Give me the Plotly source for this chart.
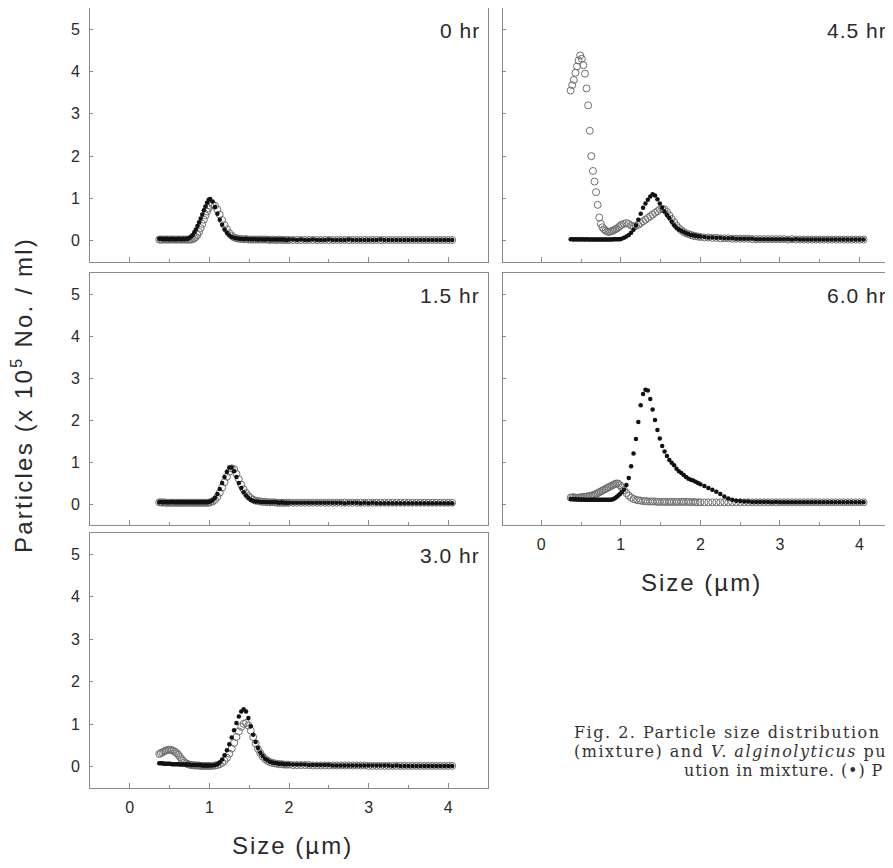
import plotly.graph_objects as go

W, H = 893, 868
OFF = 8  # the page body margin shifts the figure by 8 px

# particle size channels (um)
size_um = [
    0.37, 0.39, 0.41, 0.43, 0.45, 0.47, 0.49, 0.51, 0.53, 0.55, 0.57, 0.59, 0.61, 0.63, 0.65, 0.67,
    0.69, 0.71, 0.73, 0.75, 0.77, 0.79, 0.81, 0.83, 0.85, 0.87, 0.89, 0.91, 0.93, 0.95, 0.97, 0.99, 1.01,
    1.04, 1.07, 1.10, 1.13, 1.16, 1.19, 1.22, 1.25, 1.28, 1.31, 1.34, 1.37, 1.40, 1.43, 1.46, 1.49,
    1.52, 1.55, 1.58, 1.61, 1.64, 1.67, 1.70, 1.73, 1.76, 1.79, 1.82, 1.85, 1.88, 1.91, 1.94, 1.97, 2.00,
    2.05, 2.10, 2.15, 2.20, 2.25, 2.30, 2.35, 2.40, 2.45, 2.50, 2.55, 2.60, 2.65, 2.70, 2.75, 2.80,
    2.85, 2.90, 2.95, 3.00, 3.05, 3.10, 3.15, 3.20, 3.25, 3.30, 3.35, 3.40, 3.45, 3.50, 3.55, 3.60,
    3.65, 3.70, 3.75, 3.80, 3.85, 3.90, 3.95, 4.00, 4.05,
]

# ---- 0 hr ----
dots_0hr = [
    0.05, 0.05, 0.04, 0.05, 0.04, 0.05, 0.04, 0.04, 0.05, 0.04, 0.04, 0.04, 0.05, 0.04, 0.04, 0.05, 0.04, 0.05,
    0.05, 0.07, 0.10, 0.14, 0.20, 0.27, 0.35, 0.44, 0.53, 0.62, 0.72, 0.81, 0.90, 0.97, 0.99,
    0.93, 0.80, 0.64, 0.50, 0.38, 0.27, 0.19, 0.13, 0.09, 0.07, 0.06, 0.05, 0.05, 0.04, 0.05, 0.04,
    0.04, 0.04, 0.04, 0.03, 0.04, 0.03, 0.03, 0.04, 0.03, 0.03, 0.03, 0.03, 0.03, 0.03, 0.03, 0.02, 0.03,
    0.03, 0.02, 0.03, 0.02, 0.02, 0.03, 0.02, 0.02, 0.02, 0.03, 0.02, 0.02, 0.02, 0.02, 0.03, 0.02,
    0.02, 0.02, 0.02, 0.02, 0.02, 0.02, 0.03, 0.02, 0.02, 0.02, 0.02, 0.02, 0.02, 0.02, 0.02, 0.02,
    0.02, 0.02, 0.02, 0.02, 0.02, 0.02, 0.02, 0.02, 0.02,
]
circles_0hr = [
    0.03, 0.03, 0.03, 0.03, 0.03, 0.03, 0.03, 0.03, 0.03, 0.03, 0.03, 0.03, 0.03, 0.03, 0.03, 0.03,
    0.03, 0.03, 0.03, 0.03, 0.03, 0.04, 0.06, 0.09, 0.14, 0.21, 0.30, 0.40, 0.50, 0.60, 0.69, 0.77, 0.83,
    0.86, 0.83, 0.74, 0.62, 0.49, 0.37, 0.27, 0.18, 0.12, 0.08, 0.06, 0.05, 0.04, 0.04, 0.04, 0.03,
    0.03, 0.03, 0.03, 0.03, 0.03, 0.03, 0.03, 0.03, 0.02, 0.03, 0.02, 0.02, 0.03, 0.02, 0.02, 0.02, 0.02,
    0.02, 0.02, 0.02, 0.02, 0.02, 0.02, 0.02, 0.02, 0.02, 0.02, 0.02, 0.02, 0.02, 0.02, 0.02, 0.02,
    0.02, 0.02, 0.02, 0.02, 0.02, 0.02, 0.02, 0.02, 0.02, 0.02, 0.02, 0.02, 0.02, 0.02, 0.02, 0.02,
    0.02, 0.02, 0.02, 0.02, 0.02, 0.02, 0.02, 0.02, 0.02,
]

# ---- 1.5 hr ----
dots_1_5hr = [
    0.04, 0.05, 0.04, 0.04, 0.05, 0.04, 0.04, 0.04, 0.05, 0.04, 0.04, 0.04, 0.04, 0.04, 0.04, 0.04,
    0.04, 0.04, 0.04, 0.04, 0.04, 0.04, 0.04, 0.04, 0.04, 0.04, 0.04, 0.04, 0.04, 0.04, 0.04, 0.05, 0.06,
    0.09, 0.15, 0.24, 0.36, 0.50, 0.64, 0.77, 0.87, 0.87, 0.78, 0.64, 0.50, 0.38, 0.28, 0.20, 0.14,
    0.10, 0.08, 0.06, 0.06, 0.05, 0.05, 0.05, 0.04, 0.04, 0.04, 0.04, 0.04, 0.03, 0.04, 0.03, 0.03, 0.03,
    0.03, 0.03, 0.03, 0.03, 0.03, 0.03, 0.03, 0.03, 0.03, 0.03, 0.03, 0.03, 0.03, 0.02, 0.03, 0.03,
    0.03, 0.02, 0.03, 0.02, 0.03, 0.02, 0.02, 0.02, 0.02, 0.02, 0.02, 0.02, 0.02, 0.02, 0.02, 0.02,
    0.02, 0.02, 0.02, 0.02, 0.02, 0.02, 0.02, 0.02, 0.02,
]
circles_1_5hr = [
    0.04, 0.04, 0.03, 0.04, 0.03, 0.03, 0.03, 0.03, 0.03, 0.03, 0.03, 0.03, 0.03, 0.03, 0.03, 0.03,
    0.03, 0.03, 0.03, 0.03, 0.03, 0.03, 0.03, 0.03, 0.03, 0.03, 0.03, 0.03, 0.03, 0.03, 0.03, 0.03, 0.04,
    0.06, 0.10, 0.17, 0.27, 0.39, 0.52, 0.65, 0.77, 0.85, 0.83, 0.72, 0.59, 0.46, 0.35, 0.26, 0.19,
    0.14, 0.10, 0.08, 0.07, 0.06, 0.05, 0.05, 0.04, 0.04, 0.04, 0.04, 0.03, 0.03, 0.03, 0.03, 0.03, 0.03,
    0.03, 0.03, 0.03, 0.03, 0.03, 0.03, 0.03, 0.03, 0.03, 0.03, 0.03, 0.03, 0.03, 0.03, 0.03, 0.03,
    0.03, 0.03, 0.03, 0.03, 0.03, 0.03, 0.03, 0.03, 0.03, 0.03, 0.03, 0.03, 0.03, 0.03, 0.03, 0.03,
    0.03, 0.03, 0.03, 0.03, 0.03, 0.03, 0.03, 0.03, 0.03,
]

# ---- 3.0 hr ----
dots_3hr = [
    0.08, 0.08, 0.08, 0.07, 0.07, 0.07, 0.07, 0.07, 0.06, 0.06, 0.06, 0.06, 0.06, 0.05, 0.05, 0.05,
    0.05, 0.05, 0.05, 0.05, 0.04, 0.04, 0.04, 0.04, 0.04, 0.04, 0.04, 0.03, 0.03, 0.03, 0.03, 0.03, 0.03,
    0.03, 0.04, 0.06, 0.10, 0.17, 0.27, 0.39, 0.53, 0.69, 0.86, 1.03, 1.18, 1.30, 1.35, 1.30, 1.15,
    0.95, 0.75, 0.58, 0.44, 0.33, 0.25, 0.19, 0.15, 0.12, 0.10, 0.09, 0.08, 0.07, 0.07, 0.06, 0.06, 0.06,
    0.05, 0.05, 0.05, 0.05, 0.04, 0.04, 0.04, 0.04, 0.04, 0.04, 0.03, 0.03, 0.03, 0.03, 0.03, 0.03,
    0.03, 0.03, 0.03, 0.03, 0.03, 0.03, 0.03, 0.03, 0.03, 0.02, 0.03, 0.02, 0.02, 0.02, 0.02, 0.02,
    0.02, 0.02, 0.02, 0.02, 0.02, 0.02, 0.02, 0.02, 0.02,
]
circles_3hr = [
    0.30, 0.32, 0.34, 0.36, 0.38, 0.39, 0.40, 0.40, 0.39, 0.37, 0.35, 0.32, 0.28, 0.23, 0.18, 0.14,
    0.10, 0.08, 0.06, 0.05, 0.04, 0.04, 0.03, 0.03, 0.03, 0.03, 0.02, 0.02, 0.02, 0.02, 0.02, 0.02, 0.02,
    0.02, 0.03, 0.04, 0.06, 0.09, 0.14, 0.21, 0.31, 0.43, 0.56, 0.70, 0.83, 0.94, 1.01, 1.03, 0.97,
    0.85, 0.70, 0.55, 0.42, 0.32, 0.24, 0.18, 0.14, 0.11, 0.09, 0.08, 0.07, 0.06, 0.06, 0.05, 0.05, 0.05,
    0.04, 0.04, 0.04, 0.04, 0.04, 0.03, 0.03, 0.03, 0.03, 0.03, 0.03, 0.03, 0.03, 0.03, 0.03, 0.03,
    0.03, 0.03, 0.03, 0.02, 0.02, 0.02, 0.02, 0.02, 0.02, 0.02, 0.02, 0.02, 0.02, 0.02, 0.02, 0.02,
    0.02, 0.02, 0.02, 0.02, 0.02, 0.02, 0.02, 0.02, 0.02,
]

# ---- 4.5 hr ----
dots_4_5hr = [
    0.04, 0.04, 0.03, 0.04, 0.03, 0.04, 0.03, 0.04, 0.03, 0.03, 0.04, 0.03, 0.03, 0.03, 0.03, 0.03,
    0.03, 0.03, 0.03, 0.03, 0.03, 0.03, 0.03, 0.03, 0.03, 0.03, 0.03, 0.04, 0.04, 0.04, 0.04, 0.04, 0.05,
    0.07, 0.10, 0.14, 0.19, 0.26, 0.36, 0.50, 0.64, 0.78, 0.88, 0.97, 1.05, 1.10, 1.07, 0.98, 0.88,
    0.78, 0.69, 0.61, 0.54, 0.45, 0.37, 0.31, 0.27, 0.24, 0.21, 0.18, 0.16, 0.14, 0.13, 0.12, 0.11, 0.10,
    0.09, 0.08, 0.08, 0.07, 0.07, 0.06, 0.06, 0.06, 0.05, 0.05, 0.05, 0.05, 0.05, 0.04, 0.04, 0.04,
    0.04, 0.04, 0.04, 0.04, 0.04, 0.04, 0.03, 0.04, 0.03, 0.03, 0.03, 0.03, 0.03, 0.03, 0.03, 0.03,
    0.03, 0.03, 0.03, 0.03, 0.03, 0.03, 0.03, 0.03, 0.03,
]
circles_4_5hr = [
    3.55, 3.68, 3.80, 3.97, 4.12, 4.26, 4.38, 4.30, 4.15, 3.95, 3.60, 3.20, 2.60, 2.00, 1.65, 1.40,
    1.15, 0.85, 0.55, 0.40, 0.32, 0.27, 0.24, 0.22, 0.21, 0.22, 0.23, 0.25, 0.27, 0.29, 0.32, 0.35, 0.38,
    0.40, 0.42, 0.40, 0.36, 0.34, 0.35, 0.38, 0.42, 0.46, 0.50, 0.54, 0.58, 0.62, 0.66, 0.70, 0.74,
    0.76, 0.74, 0.68, 0.60, 0.52, 0.44, 0.36, 0.30, 0.25, 0.21, 0.18, 0.16, 0.14, 0.12, 0.11, 0.10, 0.09,
    0.08, 0.08, 0.07, 0.07, 0.06, 0.06, 0.06, 0.05, 0.05, 0.05, 0.05, 0.05, 0.04, 0.04, 0.04, 0.04,
    0.04, 0.04, 0.04, 0.04, 0.04, 0.03, 0.04, 0.03, 0.03, 0.03, 0.03, 0.03, 0.03, 0.03, 0.03, 0.03,
    0.03, 0.03, 0.03, 0.03, 0.03, 0.03, 0.03, 0.03, 0.03,
]

# ---- 6.0 hr ----
dots_6hr = [
    0.12, 0.12, 0.11, 0.12, 0.11, 0.11, 0.11, 0.10, 0.11, 0.10, 0.10, 0.10, 0.10, 0.10, 0.10, 0.10,
    0.10, 0.10, 0.10, 0.10, 0.10, 0.10, 0.10, 0.10, 0.10, 0.10, 0.11, 0.12, 0.14, 0.17, 0.20, 0.24, 0.28,
    0.34, 0.45, 0.62, 0.90, 1.20, 1.55, 1.95, 2.35, 2.62, 2.72, 2.70, 2.50, 2.25, 2.00, 1.76, 1.56,
    1.38, 1.25, 1.14, 1.05, 0.98, 0.92, 0.84, 0.78, 0.74, 0.69, 0.64, 0.60, 0.58, 0.56, 0.53, 0.50, 0.47,
    0.43, 0.38, 0.34, 0.29, 0.24, 0.18, 0.13, 0.10, 0.08, 0.07, 0.06, 0.06, 0.05, 0.05, 0.05, 0.05,
    0.05, 0.04, 0.05, 0.04, 0.04, 0.04, 0.04, 0.04, 0.04, 0.04, 0.04, 0.04, 0.04, 0.04, 0.04, 0.04,
    0.04, 0.04, 0.04, 0.04, 0.04, 0.04, 0.04, 0.04, 0.04,
]
circles_6hr = [
    0.15, 0.16, 0.16, 0.15, 0.15, 0.15, 0.16, 0.16, 0.17, 0.17, 0.18, 0.18, 0.19, 0.20, 0.21, 0.22,
    0.24, 0.26, 0.28, 0.30, 0.32, 0.34, 0.36, 0.38, 0.40, 0.42, 0.44, 0.46, 0.48, 0.49, 0.48, 0.45, 0.40,
    0.33, 0.26, 0.20, 0.15, 0.12, 0.10, 0.09, 0.08, 0.07, 0.07, 0.06, 0.06, 0.06, 0.06, 0.05, 0.05,
    0.05, 0.05, 0.05, 0.05, 0.05, 0.05, 0.05, 0.05, 0.05, 0.05, 0.05, 0.05, 0.04, 0.05, 0.04, 0.04, 0.04,
    0.04, 0.04, 0.04, 0.04, 0.04, 0.04, 0.04, 0.04, 0.04, 0.04, 0.04, 0.04, 0.04, 0.04, 0.04, 0.04,
    0.04, 0.04, 0.04, 0.04, 0.04, 0.04, 0.04, 0.04, 0.04, 0.04, 0.04, 0.04, 0.04, 0.04, 0.04, 0.04,
    0.04, 0.04, 0.04, 0.04, 0.04, 0.04, 0.04, 0.04, 0.04,
]

panel_labels = ["0 hr", "1.5 hr", "3.0 hr", "4.5 hr", "6.0 hr"]
panel_dots = [dots_0hr, dots_1_5hr, dots_3hr, dots_4_5hr, dots_6hr]
panel_circles = [circles_0hr, circles_1_5hr, circles_3hr, circles_4_5hr, circles_6hr]
x_tick_vals = [0, 1, 2, 3, 4]
y_tick_vals = [0, 1, 2, 3, 4, 5]

for arr in panel_dots + panel_circles:
    assert len(arr) == len(size_um), len(arr)


def px(xp):
    return (xp - OFF) / W


def py(yp):
    return 1 - (yp - OFF) / H


def spaced(text, ls):
    return '<span style="letter-spacing:%.1fpx">%s</span>' % (ls, text)


# layout geometry (screen pixels)
left_col = (90, 488)
right_col = (503, 893)
rows = [(8, 262), (273, 525), (533, 788)]
panel_pos = [(left_col, rows[0]), (left_col, rows[1]), (left_col, rows[2]),
             (right_col, rows[0]), (right_col, rows[1])]
x_ranges = [[-0.5, 4.5]] * 3 + [[-0.48, 4.42]] * 2
show_x_labels = [False, False, True, False, True]
show_y_labels = [True, True, True, False, False]
mirror_y = [True, True, True, False, False]

AX = "#8a8a8a"
TXT = "#2a2a2a"
FONT = "Liberation Sans, Arial, sans-serif"

fig = go.Figure()
layout = dict(
    width=W, height=H, margin=dict(l=0, r=0, t=0, b=0),
    paper_bgcolor="white", plot_bgcolor="white", showlegend=False,
    font=dict(family=FONT, color=TXT),
)
annotations = []

for i in range(5):
    n = "" if i == 0 else str(i + 1)
    (x0, x1), (y0, y1) = panel_pos[i]
    xa = dict(
        domain=[max(0, px(x0)), min(1, px(x1))], range=x_ranges[i], anchor="y" + n,
        showgrid=False, zeroline=False, showline=True, linecolor=AX, linewidth=1,
        mirror=True, ticks="inside", ticklen=5, tickcolor=AX, tickwidth=1,
        tickvals=x_tick_vals, showticklabels=show_x_labels[i],
        tickfont=dict(size=16, color=TXT), ticklabelstandoff=5,
        minor=dict(ticks="inside", ticklen=3, tickcolor=AX, dtick=0.5, tick0=0, showgrid=False),
    )
    ya = dict(
        domain=[py(y1), py(y0)], range=[-0.5, 5.5], anchor="x" + n,
        showgrid=False, zeroline=False, showline=True, linecolor=AX, linewidth=1,
        mirror=mirror_y[i], ticks="inside", ticklen=3, tickcolor=AX, tickwidth=1,
        tickvals=y_tick_vals, showticklabels=show_y_labels[i],
        tickfont=dict(size=16, color=TXT), ticklabelstandoff=6,
    )
    layout["xaxis" + n] = xa
    layout["yaxis" + n] = ya

    fig.add_trace(go.Scatter(
        x=size_um, y=panel_circles[i], mode="markers", xaxis="x" + n, yaxis="y" + n,
        marker=dict(symbol="circle-open", size=7, color="#707070", line=dict(width=1, color="#707070")),
        cliponaxis=True,
    ))
    fig.add_trace(go.Scatter(
        x=size_um, y=panel_dots[i], mode="markers", xaxis="x" + n, yaxis="y" + n,
        marker=dict(symbol="circle", size=4.5, color="#111111"),
        cliponaxis=True,
    ))
    annotations.append(dict(
        text=spaced(panel_labels[i], 1.0), xref="x%s domain" % n, yref="y%s domain" % n,
        x=0.985 if i < 3 else 0.99, y=0.91, xanchor="right", yanchor="middle",
        showarrow=False, font=dict(size=21, color=TXT, family=FONT),
    ))

# axis titles
annotations.append(dict(
    text=spaced("Particles (x 10<sup>5</sup> No. / ml)", 2.2), xref="paper", yref="paper",
    x=px(22), y=py(395), textangle=-90, showarrow=False,
    font=dict(size=24, color=TXT, family=FONT), xanchor="center", yanchor="middle",
))
annotations.append(dict(
    text=spaced("Size (\u00b5m)", 2.0), xref="paper", yref="paper", x=px(292), y=py(845),
    showarrow=False, font=dict(size=24, color=TXT, family=FONT),
    xanchor="center", yanchor="middle",
))
annotations.append(dict(
    text=spaced("Size (\u00b5m)", 2.0), xref="paper", yref="paper", x=px(701), y=py(582),
    showarrow=False, font=dict(size=24, color=TXT, family=FONT),
    xanchor="center", yanchor="middle",
))

# caption (cut off at the right edge in the original)
caption_lines = [
    ("Fig. 2. Particle size distribution", 572, 732, 1.5),
    ("(mixture) and <i>V. alginolyticus</i> pu", 572, 751, 1.5),
    ("ution in mixture. (\u2022) P", 682, 770, 0.9),
]
for txt, cx, cy, ls in caption_lines:
    annotations.append(dict(
        text=spaced(txt, ls), xref="paper", yref="paper", x=px(cx), y=py(cy),
        xanchor="left", yanchor="middle", showarrow=False,
        font=dict(size=16, color="#333333", family="DejaVu Serif, serif"),
    ))

layout["annotations"] = annotations
fig.update_layout(**layout)
fig.write_html("out.html")
